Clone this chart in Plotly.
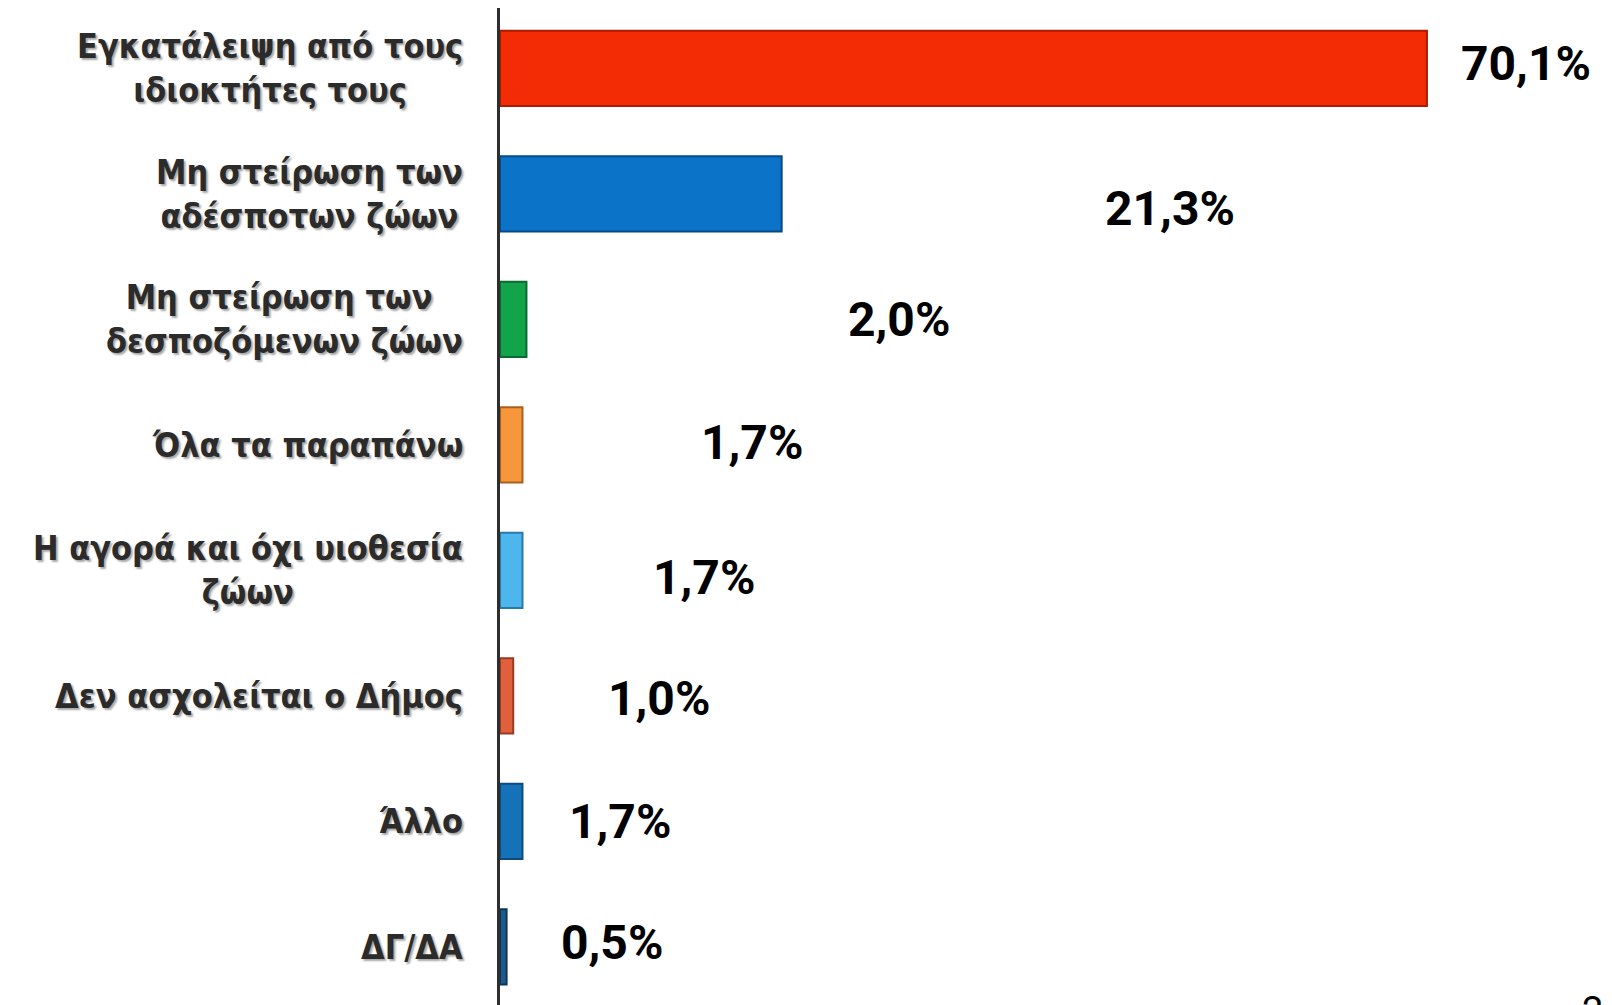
import plotly.graph_objects as go

categories = [
    "Εγκατάλειψη από τους<br>ιδιοκτήτες τους",
    "Μη στείρωση των<br>αδέσποτων ζώων",
    "Μη στείρωση των <br>δεσποζόμενων ζώων",
    "Όλα τα παραπάνω",
    "Η αγορά και όχι υιοθεσία<br>ζώων",
    "Δεν ασχολείται ο Δήμος",
    "Άλλο",
    "ΔΓ/ΔΑ",
]
values = [70.1, 21.3, 2.0, 1.7, 1.7, 1.0, 1.7, 0.5]
value_labels = ["70,1%", "21,3%", "2,0%", "1,7%", "1,7%", "1,0%", "1,7%", "0,5%"]

# styling
bar_colors = ["#F42C06", "#0B74C8", "#13A34B", "#F5973A", "#4DB6EC", "#E0603E", "#1672B8", "#1C5A8A"]
edge_colors = ["#A81C02", "#06498A", "#0A6B30", "#A9601F", "#2A78A8", "#9A3A22", "#0D4A7D", "#0E3658"]
label_dx = [99, 388, 373, 230, 182, 146, 98, 105]   # px from bar end to label centre
label_dy = [5, -15, 0, 2, -7, -3, 0, 4]

y_idx = list(range(len(categories)))

fig = go.Figure()
fig.add_trace(go.Bar(
    x=values, y=y_idx, orientation="h", width=0.6,
    marker=dict(color=bar_colors, line=dict(color=edge_colors, width=2)),
    hoverinfo="skip",
))

cat_font = "'DejaVu Sans Condensed', 'DejaVu Sans', sans-serif"
val_font = "Roboto, 'Open Sans', 'DejaVu Sans', sans-serif"
annotations = []
for i, (cat, v, lab) in enumerate(zip(categories, values, value_labels)):
    annotations.append(dict(
        x=0, xref="paper", y=i, yref="y", xanchor="right", yanchor="middle",
        xshift=-35, text="<b>" + cat + "</b>", showarrow=False, align="center",
        font=dict(family=cat_font, size=34, color="#2b2b2b",
                  shadow="2px 2px 2px rgba(0,0,0,0.35)"),
    ))
    annotations.append(dict(
        x=v, xref="x", y=i, yref="y", xanchor="center", yanchor="middle",
        xshift=label_dx[i], yshift=label_dy[i], text="<b>" + lab + "</b>",
        showarrow=False,
        font=dict(family=val_font, size=48, color="#000000"),
    ))
annotations.append(dict(
    x=1, xref="paper", y=0, yref="paper", xanchor="left", yanchor="top",
    xshift=-40, yshift=26, text="28", showarrow=False,
    font=dict(family="Roboto, sans-serif", size=38, color="#000000"),
))

fig.update_layout(
    width=1612, height=1005,
    margin=dict(l=492, r=0, t=0, b=0),
    paper_bgcolor="white", plot_bgcolor="white",
    showlegend=False,
    annotations=annotations,
    xaxis=dict(range=[0, 84.7], visible=False, fixedrange=True),
    yaxis=dict(range=[7.527, -0.481], showticklabels=False, showgrid=False,
               zeroline=False, showline=True, linecolor="#2e2e2e", linewidth=3,
               ticks="", fixedrange=True),
)

fig.write_html("out.html")
